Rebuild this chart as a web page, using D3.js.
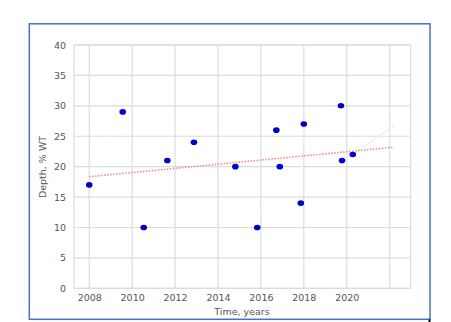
<!DOCTYPE html>
<html>
<head>
<meta charset="utf-8">
<script src="https://cdn.jsdelivr.net/npm/d3@7"></script>
<style>
body { margin: 0; background: #fff; }
svg { display: block; }
.tick text { font-family: "DejaVu Sans", sans-serif; font-size: 9.5px; fill: #555; }
.axis-title { font-family: "DejaVu Sans", sans-serif; font-size: 9.5px; fill: #555; }
</style>
</head>
<body>
<div id="content"></div>
<script>
const YEARS = [2008.0, 2009.56, 2010.54, 2011.64, 2012.88, 2014.81, 2015.83, 2016.72, 2016.88, 2017.86, 2018.0, 2019.73, 2019.78, 2020.28];
const DEPTHS = [17, 29, 10, 21, 24, 20, 10, 26, 20, 14, 27, 30, 21, 22];

// linear trend end points
const TREND_YEARS = [2008, 2022.2];
const TREND_DEPTHS = [18.35, 23.2];

// faint forecast segment
const FORECAST_YEARS = [2020.28, 2022.2];
const FORECAST_DEPTHS = [22, 26.8];

const X_TICKS = [2008, 2010, 2012, 2014, 2016, 2018, 2020];
const X_GRID = [2008, 2010, 2012, 2014, 2016, 2018, 2020, 2022];
const Y_TICKS = [0, 5, 10, 15, 20, 25, 30, 35, 40];

var width = 451;
var height = 322;

var plot = {left: 74, right: 410.7, top: 45, bottom: 288.3};

var svg = d3.select('#content')
.append('svg')
.attr('width', width)
.attr('height', height);

var xScale = d3.scaleLinear()
.domain([2007.29, 2022.98])
.range([plot.left, plot.right]);

var yScale = d3.scaleLinear()
.domain([0, 40])
.range([plot.bottom, plot.top]);

// grid
svg.append('g')
.selectAll('line')
.data(X_GRID)
.enter()
.append('line')
.attr('x1', d => xScale(d))
.attr('x2', d => xScale(d))
.attr('y1', plot.top)
.attr('y2', plot.bottom)
.attr('stroke', '#dcdcdc')
.attr('stroke-width', 1.2);

svg.append('g')
.selectAll('line')
.data(Y_TICKS)
.enter()
.append('line')
.attr('x1', plot.left)
.attr('x2', plot.right)
.attr('y1', d => yScale(d))
.attr('y2', d => yScale(d))
.attr('stroke', '#dcdcdc')
.attr('stroke-width', 1.2);

svg.append('rect')
.attr('x', plot.left)
.attr('y', plot.top)
.attr('width', plot.right - plot.left)
.attr('height', plot.bottom - plot.top)
.attr('fill', 'none')
.attr('stroke', '#dcdcdc')
.attr('stroke-width', 1.2);

// axes (labels only, matplotlib-like without tick marks)
var xAxis = d3.axisBottom(xScale)
.tickValues(X_TICKS)
.tickFormat(d3.format('d'))
.tickSize(0)
.tickPadding(6);

svg.append('g')
.attr('class', 'x-axis')
.attr('transform', 'translate(0, ' + plot.bottom + ')')
.call(xAxis)
.call(g => g.select('.domain').remove());

var yAxis = d3.axisLeft(yScale)
.tickValues(Y_TICKS)
.tickSize(0)
.tickPadding(8);

svg.append('g')
.attr('class', 'y-axis')
.attr('transform', 'translate(' + plot.left + ', 0)')
.call(yAxis)
.call(g => g.select('.domain').remove());

svg.append('text')
.attr('class', 'axis-title')
.attr('x', 242)
.attr('y', 315)
.attr('text-anchor', 'middle')
.text('Time, years');

svg.append('text')
.attr('class', 'axis-title')
.attr('transform', 'translate(46, 167) rotate(-90)')
.attr('text-anchor', 'middle')
.text('Depth, % WT');

var line = d3.line()
.x(d => xScale(d[0]))
.y(d => yScale(d[1]));

// barely visible connecting line between consecutive measurements
svg.append('path')
.datum(d3.zip(YEARS, DEPTHS))
.attr('d', line)
.attr('fill', 'none')
.attr('stroke', '#fffbe2')
.attr('stroke-width', 1)
.attr('stroke-dasharray', '2,2');

svg.append('path')
.datum(d3.zip(FORECAST_YEARS, FORECAST_DEPTHS))
.attr('d', line)
.attr('fill', 'none')
.attr('stroke', '#e2f3ee')
.attr('stroke-width', 1.2);

svg.append('path')
.datum(d3.zip(TREND_YEARS, TREND_DEPTHS))
.attr('d', line)
.attr('fill', 'none')
.attr('stroke', '#e89090')
.attr('stroke-width', 1.6)
.attr('stroke-dasharray', '1.5,1.5');

svg.append('g')
.selectAll('ellipse')
.data(d3.zip(YEARS, DEPTHS))
.enter()
.append('ellipse')
.attr('cx', d => xScale(d[0]))
.attr('cy', d => yScale(d[1]))
.attr('rx', 3.3)
.attr('ry', 2.8)
.attr('fill', '#0000cc');

// outer frame
svg.append('rect')
.attr('x', 29.3)
.attr('y', 23.8)
.attr('width', 400.7)
.attr('height', 295.5)
.attr('fill', 'none')
.attr('stroke', '#4472c4')
.attr('stroke-width', 1.5);

svg.append('rect')
.attr('x', 428.5)
.attr('y', 319.5)
.attr('width', 2)
.attr('height', 3)
.attr('fill', '#000');
</script>
</body>
</html>
